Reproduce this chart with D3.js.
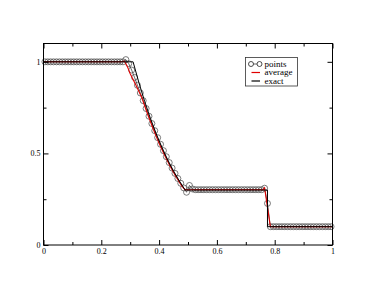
<!DOCTYPE html>
<html>
<head>
<meta charset="utf-8">
<script src="https://cdn.jsdelivr.net/npm/d3@7"></script>
<style>
  body { margin: 0; background: #fff; }
  svg { display: block; }
  text { font-family: "Liberation Serif", "Times New Roman", serif; }
</style>
</head>
<body>
<svg width="374" height="289"></svg>
<script>
// numerical solution, one value per cell (100 cells on [0,1])
const pointValues = [
  1, 1, 1, 1, 1, 1, 1, 1, 1, 1,
  1, 1, 1, 1, 1, 1, 1, 1, 1, 1,
  1, 1, 1, 1, 1, 1, 1, 1, 1.012, 0.99,
  0.955, 0.915, 0.872, 0.83, 0.788, 0.745, 0.703, 0.663, 0.624, 0.586,
  0.55, 0.515, 0.482, 0.45, 0.42, 0.391, 0.363, 0.337, 0.312, 0.288,
  0.325, 0.306, 0.302, 0.302, 0.302, 0.302, 0.302, 0.302, 0.302, 0.302,
  0.302, 0.302, 0.302, 0.302, 0.302, 0.302, 0.302, 0.302, 0.302, 0.302,
  0.302, 0.302, 0.302, 0.302, 0.302, 0.302, 0.31, 0.227, 0.1, 0.1,
  0.1, 0.1, 0.1, 0.1, 0.1, 0.1, 0.1, 0.1, 0.1, 0.1,
  0.1, 0.1, 0.1, 0.1, 0.1, 0.1, 0.1, 0.1, 0.1, 0.1
];

const avgX = [0, 0.27, 0.28, 0.29, 0.30, 0.32, 0.34, 0.36, 0.38, 0.40, 0.42, 0.44, 0.46, 0.48, 0.49, 0.50, 0.76, 0.765, 0.785, 1];
const avgY = [1, 1, 1.004, 0.975, 0.935, 0.872, 0.805, 0.715, 0.632, 0.555, 0.487, 0.425, 0.368, 0.318, 0.302, 0.302, 0.302, 0.312, 0.1, 0.1];

const exactX = [0, 0.31, 0.33, 0.35, 0.37, 0.39, 0.41, 0.43, 0.45, 0.47, 0.49, 0.775, 0.775, 1];
const exactY = [1, 1, 0.887, 0.784, 0.691, 0.607, 0.531, 0.462, 0.402, 0.349, 0.3, 0.3, 0.1, 0.1];

const xTicks = [0, 0.2, 0.4, 0.6, 0.8, 1];
const xTickLabels = ["0", "0.2", "0.4", "0.6", "0.8", "1"];
const xMinor = [0.1, 0.3, 0.5, 0.7, 0.9];
const yTicks = [0, 0.5, 1];
const yTickLabels = ["0", "0.5", "1"];
const yMinor = [0.25, 0.75];

const legendNames = ["points", "average", "exact"];

const svg = d3.select("svg");
const plotLeft = 43.5, plotRight = 332.5, plotTop = 43.5, plotBottom = 245;

const x = d3.scaleLinear().domain([0, 1]).range([plotLeft, plotRight]);
const y = d3.scaleLinear().domain([0, 1.1]).range([plotBottom, plotTop]);

const cells = pointValues.map((v, i) => ({ x: (i + 0.5) / pointValues.length, y: v }));
const avg = avgX.map((d, i) => ({ x: d, y: avgY[i] }));
const exact = exactX.map((d, i) => ({ x: d, y: exactY[i] }));

const line = d3.line().x(d => x(d.x)).y(d => y(d.y));

// points: thin line with open circles
svg.append("path")
    .datum(cells)
    .attr("d", line)
    .attr("fill", "none")
    .attr("stroke", "#000")
    .attr("stroke-width", 0.6);

svg.append("g")
    .selectAll("circle")
    .data(cells)
    .enter()
    .append("circle")
    .attr("cx", d => x(d.x))
    .attr("cy", d => y(d.y))
    .attr("r", 3)
    .attr("fill", "none")
    .attr("stroke", "#444")
    .attr("stroke-width", 0.7);

svg.append("path")
    .datum(avg)
    .attr("d", line)
    .attr("fill", "none")
    .attr("stroke", "#e00000")
    .attr("stroke-width", 1.1);

svg.append("path")
    .datum(exact)
    .attr("d", line)
    .attr("fill", "none")
    .attr("stroke", "#000")
    .attr("stroke-width", 1);

// axes, ticks pointing inwards on all four sides
function styleAxis(g) {
    g.select(".domain").remove();
    g.selectAll("line").attr("stroke", "#000").attr("stroke-width", 1);
    g.selectAll("text")
        .attr("font-size", 8)
        .attr("fill", "#000");
}

svg.append("g")
    .attr("transform", `translate(0,${plotBottom})`)
    .call(d3.axisBottom(x).tickValues(xTicks).tickFormat((d, i) => xTickLabels[i]).tickSize(-5).tickSizeOuter(0).tickPadding(3))
    .call(styleAxis);
svg.append("g")
    .attr("transform", `translate(0,${plotBottom})`)
    .call(d3.axisBottom(x).tickValues(xMinor).tickFormat("").tickSize(-3).tickSizeOuter(0))
    .call(styleAxis);
svg.append("g")
    .attr("transform", `translate(0,${plotTop})`)
    .call(d3.axisTop(x).tickValues(xTicks).tickFormat("").tickSize(-5).tickSizeOuter(0))
    .call(styleAxis);
svg.append("g")
    .attr("transform", `translate(0,${plotTop})`)
    .call(d3.axisTop(x).tickValues(xMinor).tickFormat("").tickSize(-3).tickSizeOuter(0))
    .call(styleAxis);

svg.append("g")
    .attr("transform", `translate(${plotLeft},0)`)
    .call(d3.axisLeft(y).tickValues(yTicks).tickFormat((d, i) => yTickLabels[i]).tickSize(-5).tickSizeOuter(0).tickPadding(3))
    .call(styleAxis);
svg.append("g")
    .attr("transform", `translate(${plotLeft},0)`)
    .call(d3.axisLeft(y).tickValues(yMinor).tickFormat("").tickSize(-3).tickSizeOuter(0))
    .call(styleAxis);
svg.append("g")
    .attr("transform", `translate(${plotRight},0)`)
    .call(d3.axisRight(y).tickValues(yTicks).tickFormat("").tickSize(-5).tickSizeOuter(0))
    .call(styleAxis);
svg.append("g")
    .attr("transform", `translate(${plotRight},0)`)
    .call(d3.axisRight(y).tickValues(yMinor).tickFormat("").tickSize(-3).tickSizeOuter(0))
    .call(styleAxis);

svg.append("rect")
    .attr("x", plotLeft).attr("y", plotTop)
    .attr("width", plotRight - plotLeft).attr("height", plotBottom - plotTop)
    .attr("fill", "none")
    .attr("stroke", "#000")
    .attr("stroke-width", 1);

// legend
const legend = svg.append("g").attr("transform", "translate(245.5,57.5)");
legend.append("rect")
    .attr("width", 52).attr("height", 28.5)
    .attr("fill", "#fff")
    .attr("stroke", "#333")
    .attr("stroke-width", 0.8);

const rowY = [6.5, 15, 23.5];
const rows = legend.selectAll("g.row")
    .data(legendNames)
    .enter()
    .append("g")
    .attr("class", "row")
    .attr("transform", (d, i) => `translate(0,${rowY[i]})`);

rows.append("line")
    .attr("x1", 6).attr("x2", 14.5)
    .attr("stroke", (d, i) => i === 1 ? "#e00000" : "#000")
    .attr("stroke-width", (d, i) => i === 0 ? 0.6 : 1.2);

rows.filter((d, i) => i === 0)
    .selectAll("circle")
    .data([5.5, 14])
    .enter()
    .append("circle")
    .attr("cx", d => d)
    .attr("r", 2.5)
    .attr("fill", "#fff")
    .attr("stroke", "#222")
    .attr("stroke-width", 0.8);

rows.append("text")
    .attr("x", 19)
    .attr("dy", "0.32em")
    .attr("font-size", 9)
    .attr("fill", "#000")
    .text(d => d);
</script>
</body>
</html>
